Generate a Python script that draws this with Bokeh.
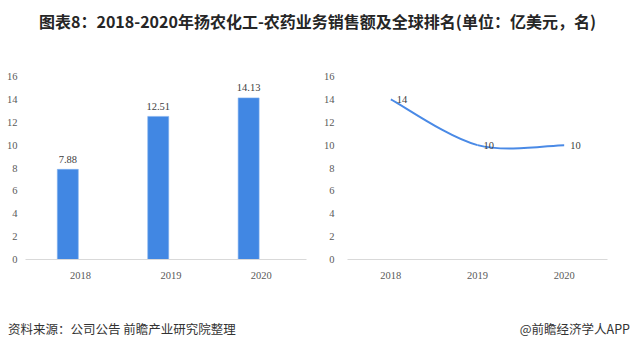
from bokeh.plotting import figure
from bokeh.models import Range1d, ColumnDataSource, Div, FixedTicker
from bokeh.layouts import column, row
from bokeh.core.properties import value
from bokeh.embed import file_html
from bokeh.resources import INLINE

# ---- data ----
years = ["2018", "2019", "2020"]
sales = [7.88, 12.51, 14.13]          # 亿美元
sales_labels = ["7.88", "12.51", "14.13"]
rank = [14, 10, 10]                   # 全球排名
rank_labels = ["14", "10", "10"]
y_ticks = [0, 2, 4, 6, 8, 10, 12, 14, 16]

TITLE = "图表8：2018-2020年扬农化工-农药业务销售额及全球排名(单位：亿美元，名)"
SOURCE = "资料来源：公司公告 前瞻产业研究院整理"
BRAND = "@前瞻经济学人APP"

BAR_COLOR = "#4187e3"
LINE_COLOR = "#4a8ae6"
TICK_COLOR = "#595959"
LABEL_COLOR = "#404040"
AXIS_COLOR = "#d9d9d9"
SERIF = "Liberation Serif"
CJK = "Noto Sans CJK SC"

xs = list(range(len(years)))


def style(p):
    p.xgrid.visible = False
    p.ygrid.visible = False
    p.outline_line_color = None
    p.background_fill_color = "white"
    p.border_fill_color = "white"
    p.xaxis.ticker = FixedTicker(ticks=xs)
    p.xaxis.major_label_overrides = {i: y for i, y in enumerate(years)}
    p.xaxis.axis_line_color = AXIS_COLOR
    p.xaxis.axis_line_width = 1
    p.xaxis.major_tick_line_color = None
    p.xaxis.minor_tick_line_color = None
    p.xaxis.major_label_standoff = 6
    p.yaxis.ticker = FixedTicker(ticks=y_ticks)
    p.yaxis.axis_line_color = None
    p.yaxis.major_tick_line_color = None
    p.yaxis.minor_tick_line_color = None
    for ax in (p.xaxis, p.yaxis):
        ax.major_label_text_font = SERIF
        ax.major_label_text_font_size = "10.5px"
        ax.major_label_text_color = TICK_COLOR


# ---- left: bar chart ----
p1 = figure(width=320, height=270, output_backend="svg", toolbar_location=None,
            x_range=Range1d(-0.608, 2.5), y_range=Range1d(0, 16),
            min_border_left=25, min_border_right=14, min_border_top=36, min_border_bottom=51)
style(p1)
p1.yaxis.major_label_standoff = 2
bar_off = -0.14
src1 = ColumnDataSource(dict(x=[x + bar_off for x in xs], v=sales, lab=sales_labels))
p1.vbar(x="x", top="v", width=0.232, bottom=0, source=src1,
        fill_color=BAR_COLOR, line_color="#7fb0ee", line_width=0.6)
p1.text(x="x", y="v", text="lab", source=src1, y_offset=-10,
        text_align="center", text_baseline="middle",
        text_font=value(SERIF), text_font_size="10.5px", text_color=LABEL_COLOR)

# ---- right: smoothed line chart ----
p2 = figure(width=315, height=270, output_backend="svg", toolbar_location=None,
            x_range=Range1d(-0.5, 2.5), y_range=Range1d(0, 16),
            min_border_left=25, min_border_right=28, min_border_top=36, min_border_bottom=51)
style(p2)
p2.yaxis.major_label_standoff = 7

# smoothed curve (bezier segments, control points from neighbouring data points)
n = len(xs)
seg = dict(x0=[], y0=[], x1=[], y1=[], cx0=[], cy0=[], cx1=[], cy1=[])
for i in range(n - 1):
    pm = (xs[max(i - 1, 0)], rank[max(i - 1, 0)])
    pa = (xs[i], rank[i])
    pb = (xs[i + 1], rank[i + 1])
    pn = (xs[min(i + 2, n - 1)], rank[min(i + 2, n - 1)])
    seg["x0"].append(pa[0]); seg["y0"].append(pa[1])
    seg["x1"].append(pb[0]); seg["y1"].append(pb[1])
    seg["cx0"].append(pa[0] + (pb[0] - pm[0]) / 6); seg["cy0"].append(pa[1] + (pb[1] - pm[1]) / 6)
    seg["cx1"].append(pb[0] - (pn[0] - pa[0]) / 6); seg["cy1"].append(pb[1] - (pn[1] - pa[1]) / 6)
p2.bezier(source=ColumnDataSource(seg), x0="x0", y0="y0", x1="x1", y1="y1",
          cx0="cx0", cy0="cy0", cx1="cx1", cy1="cy1",
          line_color=LINE_COLOR, line_width=2)
src2 = ColumnDataSource(dict(x=xs, v=rank, lab=rank_labels))
p2.text(x="x", y="v", text="lab", source=src2, x_offset=6,
        text_align="left", text_baseline="middle",
        text_font=value(SERIF), text_font_size="10.5px", text_color=LABEL_COLOR)

# ---- title & footer ----
title = Div(text=TITLE, width=635, height=40, margin=(0, 0, 0, 0),
            styles={"font-family": CJK, "font-size": "16px", "font-weight": "bold",
                    "color": "#262626", "text-align": "center", "line-height": "42px",
                    "width": "635px", "white-space": "nowrap"})
footer = Div(text=f'<div style="display:flex;justify-content:space-between;width:622px;">'
                  f'<span>{SOURCE}</span><span>{BRAND}</span></div>',
             width=635, height=41, margin=(0, 0, 0, 0),
             styles={"font-family": CJK, "font-size": "12.5px", "color": "#333333",
                     "padding-left": "8px", "line-height": "38px", "white-space": "nowrap"})

layout = column(title, row(p1, p2, spacing=0), footer, spacing=0)
layout.margin = (0, 0, 0, 0)

open("out.html", "w").write(file_html(layout, INLINE))
